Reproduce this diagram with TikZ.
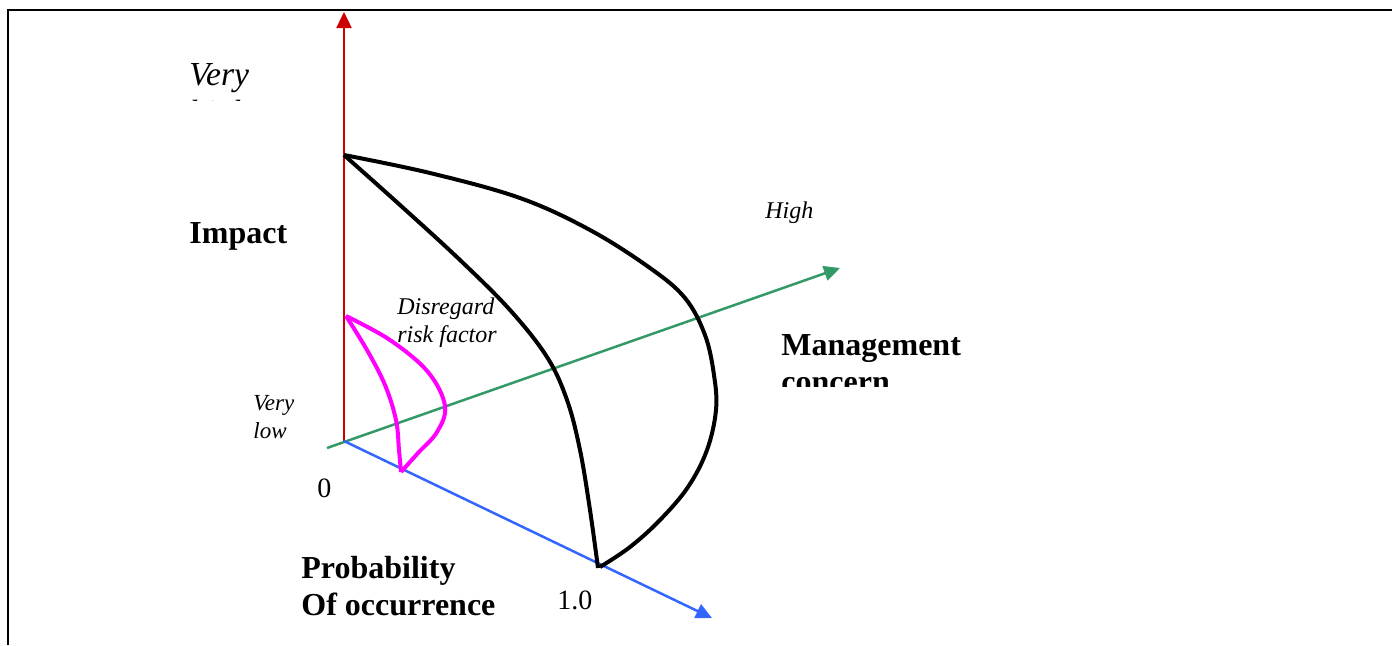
\documentclass[tikz,border=0pt]{standalone}
\usepackage{fontspec}
\setmainfont{Liberation Serif}
\usetikzlibrary{arrows.meta}
\definecolor{axred}{RGB}{204,0,0}
\definecolor{axgreen}{RGB}{51,153,102}
\definecolor{axblue}{RGB}{51,102,255}
\definecolor{rmagenta}{RGB}{255,0,255}
\tikzset{
  axis/.style={line width=1.25pt,-{Triangle[length=8pt,width=7.5pt]}},
  lbl/.style={anchor=base west,inner sep=0pt},
  big/.style={lbl,font=\fontsize{16}{18.5}\selectfont\bfseries},
  small/.style={lbl,font=\fontsize{12}{14}\selectfont\itshape}
}
\begin{document}
\begin{tikzpicture}[x=0.5pt,y=-0.5pt]
        \useasboundingbox (0,0) rectangle (1392,645);
        \draw [line width=1pt] (8,645) -- (8,10) -- (1392,10);
        % axes
        \coordinate (o) at (344,441);
        \coordinate (gstart) at (327,448);
        \coordinate (itop) at (344,12);
        \coordinate (mtip) at (840,268);
        \coordinate (ptip) at (712,618);
        \draw [axis,axred] (o) -- (itop);
        \draw [axis,axgreen] (gstart) -- (mtip);
        \draw [axis,axblue] (o) -- (ptip);
        % management concern region
        \draw [line width=2pt,line join=round,smooth,tension=0.6] plot coordinates {(344,155) (400,205) (460,260) (510,310) (547,357) (567,400) (580,450) (590,510) (598,568)};
        \draw [line width=2pt,line join=round,smooth,tension=0.6] plot coordinates {(344,155) (430,173) (520,198) (590,230) (650,268) (685,298) (705,335) (714,375) (716,410) (707,450) (688,487) (660,520) (630,547) (600,567)};
        % disregard region
        \draw [line width=2pt,rmagenta,line join=round,smooth,tension=0.6] plot coordinates {(346,316) (367,350) (385,385) (396,420) (399,450) (401,472)};
        \draw [line width=2pt,rmagenta,line join=round,smooth,tension=0.6] plot coordinates {(346,316) (390,340) (428,372) (445,406) (437,432) (418,453) (401,472)};
        % labels
        \begin{scope}
          \clip (150,20) rectangle (320,100);
          \node [lbl,align=left,font=\fontsize{16.8}{19}\selectfont\itshape] (veryhigh) at (189,123) {Very\\high};
        \end{scope}
        \node [big] (impact) at (189,243) {Impact};
        \node [small] (high) at (765,218) {High};
        \node [small,align=left,font=\fontsize{12}{13.8}\selectfont\itshape] (disregard) at (397,342) {Disregard\\risk factor};
        \node [small,align=left,font=\fontsize{11.5}{13.7}\selectfont\itshape] (verylow) at (253,438) {Very\\low};
        \node [lbl,font=\fontsize{14}{16}\selectfont] (zero) at (317,497) {0};
        \node [lbl,font=\fontsize{14}{16}\selectfont] (one) at (557,609) {1.0};
        \node [big,align=left] (prob) at (301,615) {Probability\\Of occurrence};
        \begin{scope}
          \clip (760,300) rectangle (1000,386);
          \node [big,align=left] (concern) at (781,392) {Management\\concern};
        \end{scope}
    \end{tikzpicture}
\end{document}
